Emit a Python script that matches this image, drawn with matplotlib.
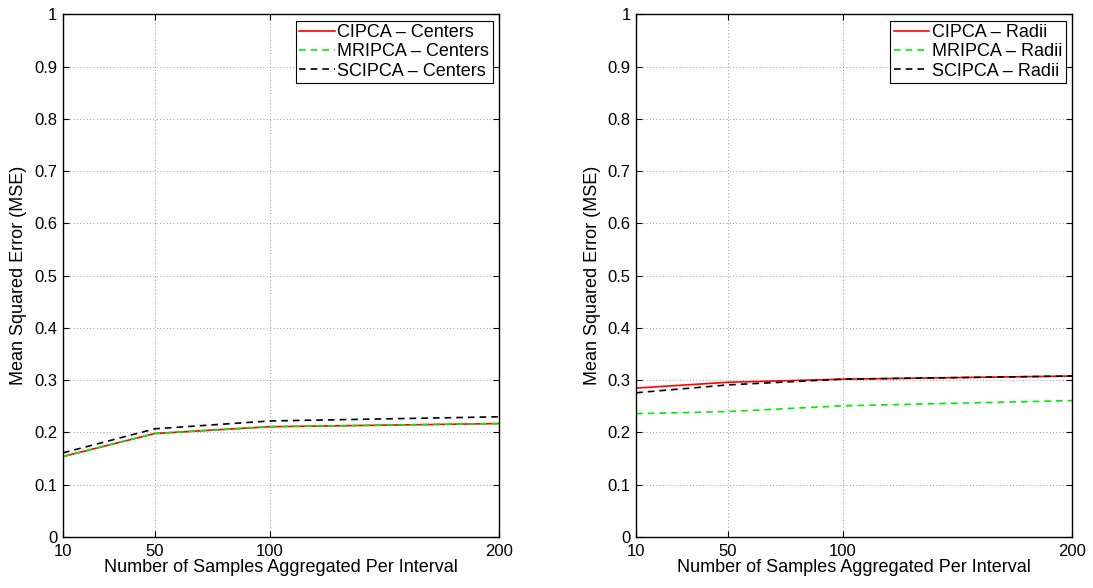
import matplotlib
matplotlib.use("Agg")
import matplotlib.pyplot as plt

plt.rcParams['font.family'] = ['Liberation Sans', 'DejaVu Sans']

samples = [10, 50, 100, 200]

# centers
cipca_centers = [0.154, 0.198, 0.211, 0.217]
mripca_centers = [0.154, 0.198, 0.211, 0.217]
scipca_centers = [0.161, 0.207, 0.222, 0.230]

# radii
cipca_radii = [0.285, 0.296, 0.302, 0.308]
mripca_radii = [0.236, 0.240, 0.251, 0.261]
scipca_radii = [0.276, 0.291, 0.302, 0.308]

yticks = [0, 0.1, 0.2, 0.3, 0.4, 0.5, 0.6, 0.7, 0.8, 0.9, 1]
ytick_labels = ['0', '0.1', '0.2', '0.3', '0.4', '0.5', '0.6', '0.7', '0.8', '0.9', '1']

fig = plt.figure(figsize=(10.93, 5.88), dpi=100)
ax1 = fig.add_axes([0.0576, 0.0867, 0.399, 0.889])
ax2 = fig.add_axes([0.582, 0.0867, 0.399, 0.889])


def style(ax, series, names):
    c, m, s = series
    ax.plot(samples, c, color='red', lw=1.2, ls='-', label=names[0])
    ax.plot(samples, m, color='#00ee00', lw=1.2, ls=(0, (4, 3)), label=names[1])
    ax.plot(samples, s, color='black', lw=1.2, ls=(0, (4, 3)), label=names[2])
    ax.set_xlim(10, 200)
    ax.set_ylim(0, 1)
    ax.set_xticks(samples)
    ax.set_yticks(yticks)
    ax.set_yticklabels(ytick_labels)
    ax.grid(True, color='#777777', ls=(0, (1, 3)), lw=0.6)
    ax.tick_params(direction='in', top=True, right=True, labelsize=12, length=4)
    ax.tick_params(axis='x', pad=5)
    ax.tick_params(axis='y', pad=4)
    for sp in ax.spines.values():
        sp.set_linewidth(1.0)
    ax.set_xlabel('Number of Samples Aggregated Per Interval', fontsize=13, labelpad=0)
    ax.set_ylabel('Mean Squared Error (MSE)', fontsize=13, labelpad=5)
    leg = ax.legend(loc='upper right', fontsize=13, fancybox=False, framealpha=1,
                    edgecolor='black', handlelength=1.95, handletextpad=0.15,
                    borderpad=0.2, labelspacing=0.12, borderaxespad=0.35)
    leg.get_frame().set_linewidth(0.8)


style(ax1, (cipca_centers, mripca_centers, scipca_centers),
      ['CIPCA \u2013 Centers', 'MRIPCA \u2013 Centers', 'SCIPCA \u2013 Centers'])
style(ax2, (cipca_radii, mripca_radii, scipca_radii),
      ['CIPCA \u2013 Radii', 'MRIPCA \u2013 Radii', 'SCIPCA \u2013 Radii'])

fig.savefig('out.png', dpi=100)
